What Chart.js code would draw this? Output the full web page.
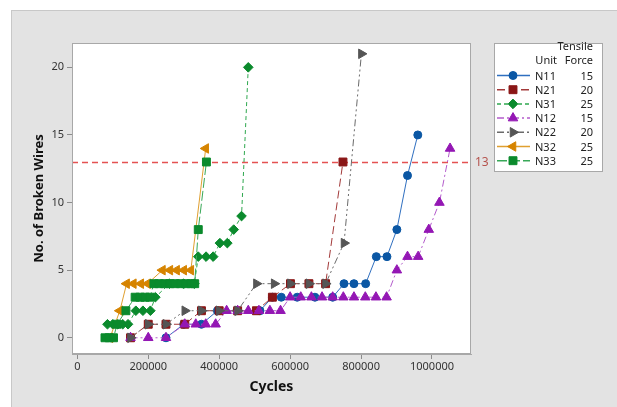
<!DOCTYPE html>
<html>
<head>
<meta charset="utf-8">
<script src="https://cdn.jsdelivr.net/npm/chart.js@4"></script>
<style>
    html, body { margin: 0; padding: 0; background: #fff; }
</style>
</head>
<body>
<canvas id="myChart" width="617" height="407"></canvas>
<script>
// values
const seriesUnits = ['N11', 'N21', 'N31', 'N12', 'N22', 'N32', 'N33']
const tensileForce = [15, 20, 25, 15, 20, 25, 25]

const n11Cycles = [250000, 300000, 350000, 395000, 450000, 515000, 550000, 575000, 620000, 670000, 720000, 752000, 780000, 813000, 843000, 873000, 901000, 931000, 960000]
const n11Wires = [0, 1, 1, 2, 2, 2, 3, 3, 3, 3, 3, 4, 4, 4, 6, 6, 8, 12, 15]

const n21Cycles = [150000, 200000, 250000, 303000, 350000, 400000, 452000, 505000, 550000, 601000, 653000, 700000, 749000]
const n21Wires = [0, 1, 1, 1, 2, 2, 2, 2, 3, 4, 4, 4, 13]

const n31Cycles = [85000, 100000, 114000, 128000, 143000, 165000, 185000, 206000, 220000, 260000, 300000, 330000, 341000, 363000, 383000, 402000, 423000, 441000, 463000, 482000]
const n31Wires = [1, 1, 1, 1, 1, 2, 2, 2, 3, 4, 4, 4, 6, 6, 6, 7, 7, 8, 9, 20]

const n12Cycles = [150000, 200000, 250000, 303000, 334000, 362000, 390000, 421000, 452000, 482000, 512000, 543000, 573000, 600000, 630000, 660000, 690000, 720000, 750000, 780000, 812000, 842000, 872000, 901000, 931000, 961000, 991000, 1021000, 1051000]
const n12Wires = [0, 0, 0, 1, 1, 1, 1, 2, 2, 2, 2, 2, 2, 3, 3, 3, 3, 3, 3, 3, 3, 3, 3, 5, 6, 6, 8, 10, 14]

const n22Cycles = [150000, 200000, 250000, 303000, 350000, 400000, 452000, 505000, 555000, 601000, 653000, 700000, 752000, 801000]
const n22Wires = [0, 1, 1, 2, 2, 2, 2, 4, 4, 4, 4, 4, 7, 21]

const n32Cycles = [92000, 120000, 139000, 158000, 179000, 198000, 240000, 261000, 280000, 300000, 320000, 362000]
const n32Wires = [0, 2, 4, 4, 4, 4, 5, 5, 5, 5, 5, 14]

const n33Cycles = [78000, 90000, 102000, 112000, 137000, 163000, 177000, 191000, 205000, 216000, 231000, 246000, 261000, 276000, 291000, 306000, 321000, 331000, 341000, 364000]
const n33Wires = [0, 0, 0, 1, 2, 3, 3, 3, 3, 4, 4, 4, 4, 4, 4, 4, 4, 4, 8, 13]

const xTicks = [0, 200000, 400000, 600000, 800000, 1000000]
const yTicks = [0, 5, 10, 15, 20]
const limitWires = 13

const Broken = (function () {
    let _configMap = {
        chartPointer: "",
        chart: "",
        font: "'Noto Sans', 'Open Sans', sans-serif"
    }

    const _pairs = function (xs, ys) {
        return xs.map((x, i) => ({ x: x, y: ys[i] }))
    }

    const _series = [
        { cycles: n11Cycles, wires: n11Wires, line: '#2f6fc0', mark: '#0b57a4', style: 'circle', radius: 4, rot: 0, dash: [] },
        { cycles: n21Cycles, wires: n21Wires, line: '#a33a3a', mark: '#8a1616', style: 'rect', radius: 5.6, rot: 0, dash: [8, 4] },
        { cycles: n31Cycles, wires: n31Wires, line: '#2fa84f', mark: '#0a8a2c', style: 'rectRot', radius: 4.8, rot: 0, dash: [4, 3] },
        { cycles: n12Cycles, wires: n12Wires, line: '#b45ccc', mark: '#9417b4', style: 'triangle', radius: 5.5, rot: 0, dash: [7, 3, 2, 3] },
        { cycles: n22Cycles, wires: n22Wires, line: '#6a6a6a', mark: '#555555', style: 'triangle', radius: 5.5, rot: 90, dash: [7, 3, 2, 3, 2, 3] },
        { cycles: n32Cycles, wires: n32Wires, line: '#e0a030', mark: '#d68400', style: 'triangle', radius: 5.5, rot: -90, dash: [] },
        { cycles: n33Cycles, wires: n33Wires, line: '#38a858', mark: '#0a8a2c', style: 'rect', radius: 5.6, rot: 0, dash: [10, 3] }
    ]

    const _drawMarker = function (ctx, s, x, y) {
        const r = s.radius
        ctx.save()
        ctx.setLineDash([])
        ctx.fillStyle = s.mark
        ctx.strokeStyle = s.mark
        ctx.lineWidth = 1
        ctx.beginPath()
        if (s.style === 'circle') {
            ctx.arc(x, y, r, 0, Math.PI * 2)
        } else if (s.style === 'rect') {
            const h = r * Math.SQRT1_2
            ctx.rect(x - h, y - h, 2 * h, 2 * h)
        } else if (s.style === 'rectRot') {
            ctx.moveTo(x - r, y)
            ctx.lineTo(x, y - r)
            ctx.lineTo(x + r, y)
            ctx.lineTo(x, y + r)
            ctx.closePath()
        } else {
            let rad = s.rot * Math.PI / 180
            ctx.moveTo(x + Math.sin(rad) * r, y - Math.cos(rad) * r)
            rad += Math.PI * 2 / 3
            ctx.lineTo(x + Math.sin(rad) * r, y - Math.cos(rad) * r)
            rad += Math.PI * 2 / 3
            ctx.lineTo(x + Math.sin(rad) * r, y - Math.cos(rad) * r)
            ctx.closePath()
        }
        ctx.fill()
        ctx.stroke()
        ctx.restore()
    }

    const _backdrop = {
        id: 'backdrop',
        beforeDraw: function (chart) {
            const ctx = chart.ctx
            const a = chart.chartArea
            ctx.save()
            ctx.fillStyle = '#ffffff'
            ctx.fillRect(0, 0, chart.width, chart.height)
            ctx.fillStyle = '#e3e3e3'
            ctx.fillRect(11, 10, chart.width - 11, chart.height - 10)
            ctx.strokeStyle = '#c8c8c8'
            ctx.lineWidth = 1
            ctx.strokeRect(11.5, 10.5, chart.width, chart.height)
            ctx.fillStyle = '#ffffff'
            ctx.fillRect(a.left, a.top, a.right - a.left, a.bottom - a.top)
            ctx.restore()
        },
        beforeDatasetsDraw: function (chart) {
            const ctx = chart.ctx
            const a = chart.chartArea
            const y = Math.round(chart.scales.y.getPixelForValue(limitWires)) + 0.5
            ctx.save()
            ctx.strokeStyle = '#e45252'
            ctx.lineWidth = 1.5
            ctx.setLineDash([6, 4])
            ctx.beginPath()
            ctx.moveTo(a.left, y)
            ctx.lineTo(a.right, y)
            ctx.stroke()
            ctx.restore()
        },
        afterDraw: function (chart) {
            const ctx = chart.ctx
            const a = chart.chartArea
            ctx.save()
            // frame round the data region
            ctx.strokeStyle = '#a8a8a8'
            ctx.lineWidth = 1
            ctx.strokeRect(a.left + 0.5, a.top + 0.5, a.right - a.left - 1, a.bottom - a.top - 1)

            // reference value label
            ctx.fillStyle = '#b5524c'
            ctx.font = "12px " + _configMap.font
            ctx.textBaseline = 'middle'
            ctx.textAlign = 'left'
            ctx.fillText(String(limitWires), a.right + 4, chart.scales.y.getPixelForValue(limitWires) + 1)

            // legend table
            const lx = 494, ly = 43, lw = 108, lh = 128
            ctx.fillStyle = '#ffffff'
            ctx.fillRect(lx, ly, lw, lh)
            ctx.strokeStyle = '#a8a8a8'
            ctx.strokeRect(lx + 0.5, ly + 0.5, lw, lh)
            ctx.fillStyle = '#222'
            ctx.font = "11px " + _configMap.font
            ctx.textAlign = 'right'
            ctx.fillText('Tensile', 593, 47)
            ctx.fillText('Force', 593, 61)
            ctx.fillText('Unit', 557, 61)
            _series.forEach(function (s, i) {
                const y = 75.5 + i * 14.2
                ctx.save()
                ctx.strokeStyle = s.line
                ctx.lineWidth = 1.5
                ctx.setLineDash(s.dash)
                ctx.beginPath()
                ctx.moveTo(497, y)
                ctx.lineTo(530, y)
                ctx.stroke()
                ctx.restore()
                _drawMarker(ctx, s, 513, y)
                ctx.fillStyle = '#222'
                ctx.textAlign = 'left'
                ctx.fillText(seriesUnits[i], 535, y + 1)
                ctx.textAlign = 'right'
                ctx.fillText(String(tensileForce[i]), 593, y + 1)
            })
            ctx.restore()
        }
    }

    const _init = function () {
        _configMap.chartPointer = document.getElementById('myChart').getContext('2d')
        const font = _configMap.font

        _configMap.chart = new Chart(_configMap.chartPointer, {
            type: 'line',
            data: {
                datasets: _series.map(function (s, i) {
                    return {
                        label: seriesUnits[i],
                        data: _pairs(s.cycles, s.wires),
                        order: -i, // later series on top, as in the source
                        borderColor: s.line,
                        borderWidth: 1,
                        borderDash: s.dash,
                        backgroundColor: s.mark,
                        pointStyle: s.style,
                        pointRadius: s.radius,
                        pointRotation: s.rot,
                        pointBackgroundColor: s.mark,
                        pointBorderColor: s.mark,
                        pointBorderWidth: 1,
                        fill: false,
                        tension: 0
                    }
                })
            },
            options: {
                responsive: false,
                animation: false,
                events: [],
                layout: { padding: { top: 43, right: 146, left: 31, bottom: 0 } },
                plugins: {
                    legend: { display: false },
                    tooltip: { enabled: false }
                },
                scales: {
                    x: {
                        type: 'linear',
                        min: -15000,
                        max: 1110000,
                        afterBuildTicks: function (scale) {
                            scale.ticks = xTicks.map(v => ({ value: v }))
                        },
                        afterFit: function (scale) {
                            scale.height = 53
                        },
                        ticks: {
                            callback: v => String(v),
                            color: '#333',
                            padding: 1,
                            maxRotation: 0,
                            font: { family: font, size: 11 }
                        },
                        grid: { drawOnChartArea: false, drawTicks: true, tickLength: 5, color: '#8c8c8c' },
                        border: { display: true, color: '#a8a8a8' },
                        title: {
                            display: true,
                            text: 'Cycles',
                            color: '#111',
                            padding: { top: 2, bottom: 12 },
                            font: { family: font, size: 14, weight: 'bold' }
                        }
                    },
                    y: {
                        type: 'linear',
                        min: -1.2,
                        max: 21.8,
                        afterBuildTicks: function (scale) {
                            scale.ticks = yTicks.map(v => ({ value: v }))
                        },
                        afterFit: function (scale) {
                            scale.width = 41
                        },
                        ticks: {
                            color: '#333',
                            padding: 3,
                            font: { family: font, size: 11 }
                        },
                        grid: { drawOnChartArea: false, drawTicks: true, tickLength: 5, color: '#8c8c8c' },
                        border: { display: true, color: '#a8a8a8' },
                        title: {
                            display: true,
                            text: 'No. of Broken Wires',
                            color: '#111',
                            padding: 0,
                            font: { family: font, size: 13, weight: 'bold' }
                        }
                    }
                }
            },
            plugins: [_backdrop]
        })
    }

    return {
        init: _init
    }
})()

Broken.init()
</script>
</body>
</html>
